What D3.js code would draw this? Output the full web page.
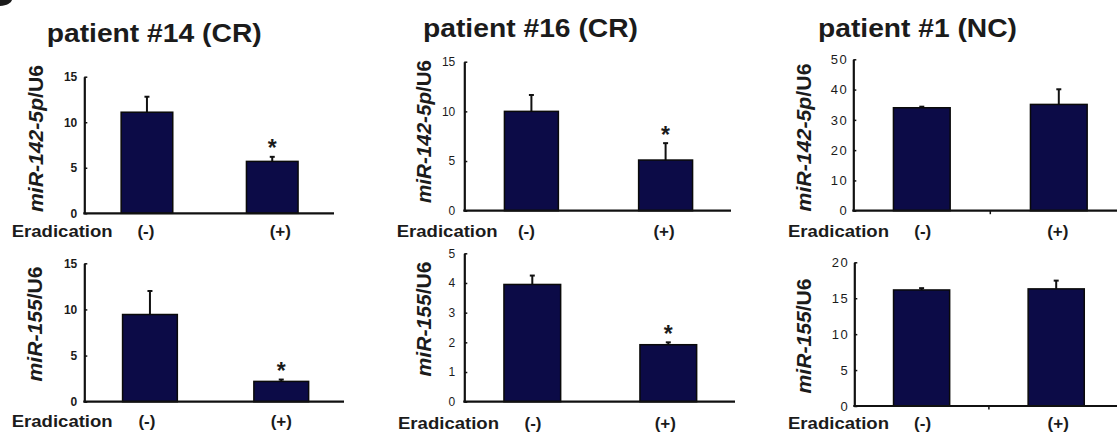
<!DOCTYPE html>
<html>
<head>
<meta charset="utf-8">
<script src="https://cdn.jsdelivr.net/npm/d3@7"></script>
<style>
  html, body { margin: 0; padding: 0; background: #fff; }
  svg { display: block; }
  text { font-family: Arial, "Liberation Sans", Helvetica, sans-serif; fill: #1b1b1b; }
</style>
</head>
<body>
<svg id="chart" width="1117" height="432"></svg>
<script>
// ---------------- data ----------------
const categories = ["(-)", "(+)"];
const titles = ["patient #14 (CR)", "patient #16 (CR)", "patient #1 (NC)"];
const xAxisTitle = "Eradication";
const rowGenes = ["miR-142-5p", "miR-155"];
const rowRef = "/U6";

// miR-142-5p/U6 (top row), per patient: [(-), (+)]
const mir142Means  = [[11.1, 5.7], [10.0, 5.1], [34.0, 35.1]];
const mir142Errors = [[1.7, 0.5], [1.65, 1.7], [0.35, 5.0]];
// miR-155/U6 (bottom row)
const mir155Means  = [[9.45, 2.2], [3.95, 1.92], [16.15, 16.3]];
const mir155Errors = [[2.55, 0.2], [0.3, 0.08], [0.25, 1.15]];

// significance markers (*)
const mir142Signif = [[false, true], [false, true], [false, false]];
const mir155Signif = [[false, true], [false, true], [false, false]];

// y-axis tick values
const mir142Ticks = [[0, 5, 10, 15], [0, 5, 10, 15], [0, 10, 20, 30, 40, 50]];
const mir155Ticks = [[0, 5, 10, 15], [0, 1, 2, 3, 4, 5], [0, 5, 10, 15, 20]];

// ---------------- layout (positions/styles only) ----------------
const layoutTop = [
  {x0: 84.3, y0: 213.3, y1: 76.7, step: 125.3, pad: 0.588, xEnd: 334, tickBold: true, tickSize: 12, tickLS: 0, tickPad: 7,
   ylabX: 35.5, ylabY: 138.5, ylabLen: 147, eradX: 11.7, eradY: 237, catDx: [-1, 8], midTick: false},
  {x0: 464.3, y0: 210.7, y1: 61.7, step: 134.2, pad: 0.598, xEnd: 731, tickBold: false, tickSize: 12, tickLS: 0, tickPad: 9,
   ylabX: 424, ylabY: 131.5, ylabLen: 143, eradX: 396.7, eradY: 236.5, catDx: [-5, -1.6], midTick: false},
  {x0: 853.3, y0: 210.7, y1: 59.3, step: 137, pad: 0.586, xEnd: 1117, tickBold: false, tickSize: 13, tickLS: 1.5, tickPad: 5,
   ylabX: 803.5, ylabY: 137.5, ylabLen: 148, eradX: 788, eradY: 236.5, catDx: [1, -1], midTick: true}
];
const layoutBottom = [
  {x0: 84.3, y0: 401.7, y1: 263.3, step: 131.3, pad: 0.583, xEnd: 344, tickBold: true, tickSize: 12, tickLS: 0, tickPad: 7,
   ylabX: 34.5, ylabY: 324, ylabLen: 115, eradX: 11.7, eradY: 427, catDx: [-3, 0], midTick: false},
  {x0: 464.3, y0: 401.7, y1: 253.3, step: 136, pad: 0.583, xEnd: 735, tickBold: false, tickSize: 12, tickLS: 0, tickPad: 9,
   ylabX: 424, ylabY: 319, ylabLen: 115, eradX: 398, eradY: 429, catDx: [0.7, -3], midTick: false},
  {x0: 854.3, y0: 406, y1: 262.3, step: 134.6, pad: 0.583, xEnd: 1117, tickBold: false, tickSize: 13, tickLS: 1.5, tickPad: 5,
   ylabX: 804, ylabY: 336, ylabLen: 115, eradX: 788, eradY: 429, catDx: [1, 2], midTick: true}
];
const titlePos = [
  {cx: 154.2, y: 42.3, len: 215},
  {cx: 530.5, y: 37.3, len: 215},
  {cx: 917.5, y: 37.3, len: 199}
];

const barFill = "#0c0b47";
const inkColor = "#1b1b1b";

const svg = d3.select("#chart");

// cropped fragment of a panel letter in the top-left corner (decorative shape)
svg.append("path")
  .attr("d", "M0,0 L12,0 C11,3 7,5.5 0,6 Z")
  .attr("fill", "#1b1b1b");

// titles
titles.forEach((t, i) => {
  svg.append("text")
    .attr("x", titlePos[i].cx).attr("y", titlePos[i].y)
    .attr("text-anchor", "middle")
    .attr("font-size", 25).attr("font-weight", "bold")
    .attr("textLength", titlePos[i].len).attr("lengthAdjust", "spacingAndGlyphs")
    .text(t);
});

function drawPanel(L, means, errors, signif, ticks, gene) {
  const g = svg.append("g");
  const yMax = ticks[ticks.length - 1];
  const y = d3.scaleLinear().domain([0, yMax]).range([L.y0, L.y1]);
  const x = d3.scaleBand().domain(categories)
    .range([L.x0, L.x0 + L.step * categories.length])
    .paddingInner(L.pad).paddingOuter(L.pad / 2);

  const data = categories.map((c, i) => ({c, m: means[i], e: errors[i], s: signif[i], dx: L.catDx[i]}));

  // error bars (upper only)
  data.forEach(d => {
    const cx = x(d.c) + x.bandwidth() / 2;
    g.append("line")
      .attr("x1", cx).attr("x2", cx)
      .attr("y1", y(d.m)).attr("y2", y(d.m + d.e))
      .attr("stroke", "#111").attr("stroke-width", 2);
    g.append("line")
      .attr("x1", cx - 2.5).attr("x2", cx + 2.5)
      .attr("y1", y(d.m + d.e)).attr("y2", y(d.m + d.e))
      .attr("stroke", "#111").attr("stroke-width", 2);
  });

  // bars
  g.selectAll("rect.bar").data(data).join("rect")
    .attr("class", "bar")
    .attr("x", d => x(d.c))
    .attr("width", x.bandwidth())
    .attr("y", d => y(d.m))
    .attr("height", d => y(0) - y(d.m))
    .attr("fill", barFill)
    .attr("stroke", "#0a0a0a").attr("stroke-width", 1.5);

  // significance asterisks
  data.filter(d => d.s).forEach(d => {
    const cx = x(d.c) + x.bandwidth() / 2;
    g.append("text")
      .attr("x", cx).attr("y", y(d.m + d.e) - 0.5)
      .attr("text-anchor", "middle")
      .attr("font-size", 23).attr("font-weight", "bold")
      .text("*");
  });

  // y axis
  const yAxis = d3.axisLeft(y).tickValues(ticks).tickSizeInner(-3).tickSizeOuter(0)
    .tickPadding(L.tickPad).tickFormat(d3.format("d"));
  const ya = g.append("g").attr("transform", `translate(${L.x0},0)`).call(yAxis);
  ya.select(".domain").attr("stroke", "#111").attr("stroke-width", 2.2);
  ya.selectAll(".tick line").attr("stroke", "#111").attr("stroke-width", 1.5);
  ya.selectAll(".tick text")
    .attr("font-family", "Arial, 'Liberation Sans', sans-serif")
    .attr("font-size", L.tickSize)
    .attr("font-weight", L.tickBold ? "bold" : "normal")
    .attr("letter-spacing", L.tickLS)
    .attr("fill", inkColor);

  // x axis baseline
  g.append("line")
    .attr("x1", L.x0 - 1).attr("x2", L.xEnd)
    .attr("y1", y(0)).attr("y2", y(0))
    .attr("stroke", "#111").attr("stroke-width", 2.2);

  if (L.midTick) {
    const bx = L.x0 + x.step();
    g.append("line")
      .attr("x1", bx).attr("x2", bx)
      .attr("y1", y(0)).attr("y2", y(0) + 3.5)
      .attr("stroke", "#111").attr("stroke-width", 1.5);
  }

  // y label
  const yl = g.append("text")
    .attr("transform", `translate(${L.ylabX + 7},${L.ylabY}) rotate(-90)`)
    .attr("text-anchor", "middle")
    .attr("font-size", 20).attr("font-weight", "bold")
    .attr("textLength", L.ylabLen).attr("lengthAdjust", "spacingAndGlyphs");
  yl.append("tspan").attr("font-style", "italic").text(gene);
  yl.append("tspan").text(rowRef);

  // x labels
  g.append("text")
    .attr("x", L.eradX).attr("y", L.eradY)
    .attr("font-size", 17).attr("font-weight", "bold")
    .attr("textLength", 101).attr("lengthAdjust", "spacingAndGlyphs")
    .text(xAxisTitle);
  data.forEach(d => {
    g.append("text")
      .attr("x", x(d.c) + x.bandwidth() / 2 + d.dx).attr("y", L.eradY)
      .attr("text-anchor", "middle")
      .attr("font-size", 17).attr("font-weight", "bold")
      .text(d.c);
  });
}

for (let i = 0; i < 3; i++) {
  drawPanel(layoutTop[i], mir142Means[i], mir142Errors[i], mir142Signif[i], mir142Ticks[i], rowGenes[0]);
  drawPanel(layoutBottom[i], mir155Means[i], mir155Errors[i], mir155Signif[i], mir155Ticks[i], rowGenes[1]);
}
</script>
</body>
</html>
